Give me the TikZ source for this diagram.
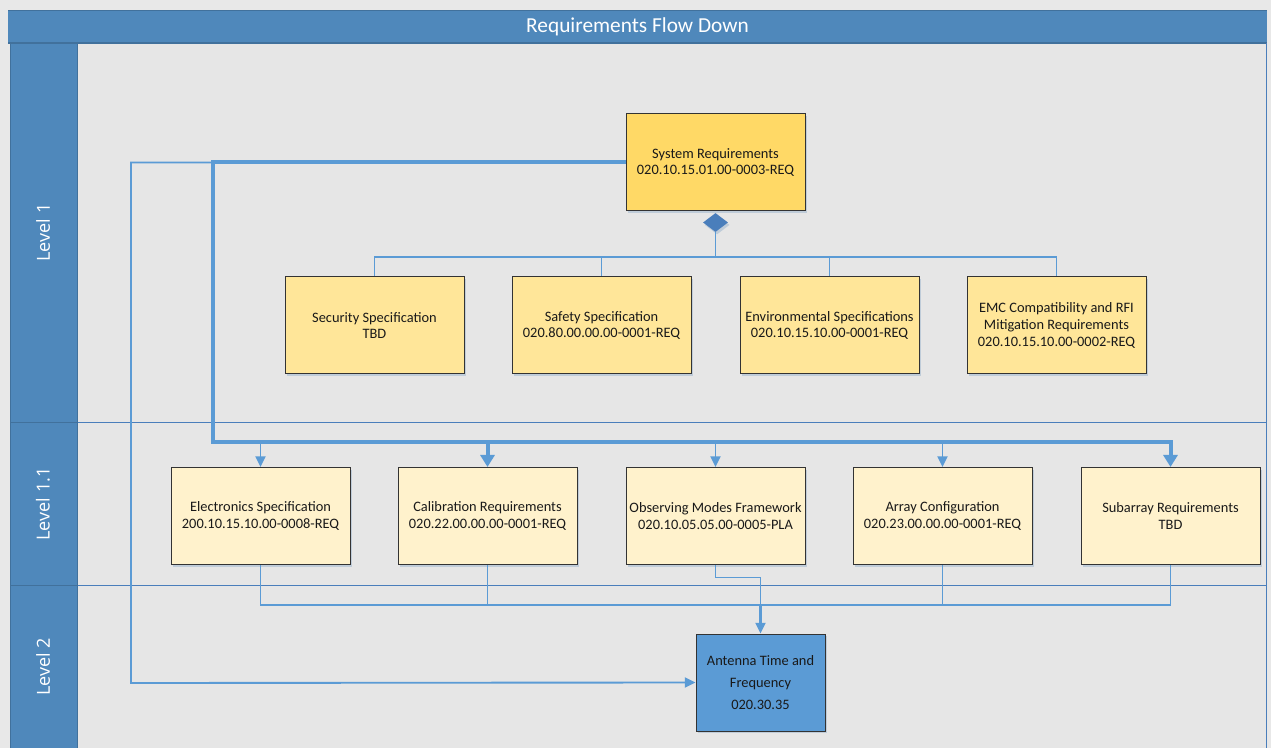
\documentclass[tikz,border=0pt]{standalone}
\usepackage{fontspec}
\setmainfont{Carlito}
\newfontfamily\lanefont{Open Sans}
\usetikzlibrary{arrows.meta,shapes.geometric,shadows}
\definecolor{bg}{HTML}{E8E8E8}
\definecolor{lanebg}{HTML}{E6E6E6}
\definecolor{hdr}{HTML}{4F88BB}
\definecolor{sep}{HTML}{41719C}
\definecolor{csep}{HTML}{4A7EBB}
\definecolor{conn}{HTML}{5B9BD5}
\definecolor{sysfill}{HTML}{FFD966}
\definecolor{lonefill}{HTML}{FFE699}
\definecolor{lelevfill}{HTML}{FFF2CC}
\definecolor{antfill}{HTML}{5B9BD5}
\definecolor{diafill}{HTML}{4A7EBB}
\begin{document}
\begin{tikzpicture}[x=0.75pt,y=-0.75pt,
  shade box/.style={drop shadow={shadow xshift=1.2pt, shadow yshift=-1.8pt, fill=conn!70!gray, opacity=0.3}},
  box/.style={draw=black!80, line width=0.75pt, minimum width=134.25pt, minimum height=72.75pt,
    align=center, font=\fontsize{10.8}{12.6}\selectfont, inner sep=1pt, text=black!90, shade box},
  antbox/.style={box, fill=antfill, minimum width=96.75pt, minimum height=72.75pt, font=\fontsize{10.8}{16.5}\selectfont},
  thinconn/.style={draw=conn, line width=1.4pt},
  thickconn/.style={draw=conn, line width=3pt},
  thinarrow/.style={thinconn, -{Triangle[width=7.5pt,length=8pt]}},
  thickarrow/.style={thickconn, -{Triangle[width=10.5pt,length=9pt]}},
  lanelabel/.style={text=white, rotate=90, font=\lanefont\fontsize{13.5}{15}\selectfont},
]
\useasboundingbox (0,0) rectangle (1271,748);
\fill[bg] (0,0) rectangle (1271,748);
% lanes area
\fill[lanebg] (77,43) rectangle (1267,748);
\fill[hdr] (8,10) rectangle (1267,43);
\fill[hdr] (10,43) rectangle (77,748);
\draw[sep, line width=0.9pt] (8,10.5) -- (1267,10.5);
\draw[sep, line width=0.9pt] (8,43) -- (1267,43);
\draw[csep, line width=1pt] (1266.5,43) -- (1266.5,748);
\draw[csep, line width=1.2pt] (77,422.5) -- (1267,422.5);
\draw[csep, line width=1.2pt] (77,585.5) -- (1267,585.5);
\draw[sep, line width=1.2pt] (10,422.5) -- (77,422.5);
\draw[sep, line width=1.2pt] (10,585.5) -- (77,585.5);
\draw[sep, line width=0.6pt] (10,43) -- (10,748);
\draw[sep, line width=0.6pt] (77,43) -- (77,748);

\node[text=white, font=\fontsize{16}{18}\selectfont] (title) at (637.5,27) {Requirements Flow Down};
\node[lanelabel] (lane1) at (43,232.5) {Level 1};
\node[lanelabel] (lane11) at (43,504) {Level 1.1};
\node[lanelabel] (lane2) at (43,667) {Level 2};

% nodes
\node[box, fill=sysfill] (sys) at (715.5,162.5) {System Requirements\\020.10.15.01.00-0003-REQ};
\node[diamond, fill=diafill, inner sep=0pt, minimum width=18.75pt, minimum height=14.25pt, shade box] (dia) at (715.5,222.5) {};

\node[box, fill=lonefill] (sec) at (374.5,325.5) {Security Specification\\TBD};
\node[box, fill=lonefill] (saf) at (601.5,325.5) {Safety Specification\\020.80.00.00.00-0001-REQ};
\node[box, fill=lonefill] (env) at (829.5,325.5) {Environmental Specifications\\020.10.15.10.00-0001-REQ};
\node[box, fill=lonefill] (emc) at (1056.5,325.5) {EMC Compatibility and RFI\\Mitigation Requirements\\020.10.15.10.00-0002-REQ};

\node[box, fill=lelevfill] (ele) at (260.5,516) {Electronics Specification\\200.10.15.10.00-0008-REQ};
\node[box, fill=lelevfill] (cal) at (487.5,516) {Calibration Requirements\\020.22.00.00.00-0001-REQ};
\node[box, fill=lelevfill] (obs) at (715.5,516) {Observing Modes Framework\\020.10.05.05.00-0005-PLA};
\node[box, fill=lelevfill] (arr) at (942.5,516) {Array Configuration\\020.23.00.00.00-0001-REQ};
\node[box, fill=lelevfill] (sub) at (1170.5,516) {Subarray Requirements\\TBD};

\node[antbox] (ant) at (760.5,682.5) {Antenna Time and\\Frequency\\020.30.35};

% coordinates
\coordinate (dj) at (715.5,257);
\coordinate (lp) at (131,683);
\coordinate (tc) at (213,442.5);
\coordinate (bb) at (760.5,605);
\coordinate (om) at (715.5,577.5);

% level 1 tree
\draw[thinconn] (dia.south) -- (dj) -| (sec.north);
\draw[thinconn] (dj) -| (saf.north);
\draw[thinconn] (dj) -| (env.north);
\draw[thinconn] (dj) -| (emc.north);

% system -> antenna (thin, left)
\draw[thinarrow] (sys.west) -| (lp) -- (ant.west);

% system -> level 1.1 (thick)
\draw[thickconn] (sys.west) -| (tc) -- (sub.north |- tc);
\draw[thinarrow] (tc) -| (ele.north);
\draw[thinarrow] (tc) -| (obs.north);
\draw[thinarrow] (tc) -| (arr.north);
\draw[thickarrow] (tc) -| (cal.north);
\draw[thickarrow] (tc) -| (sub.north);

% level 1.1 -> antenna
\draw[thinconn] (ele.south) |- (bb);
\draw[thinconn] (cal.south) |- (bb);
\draw[thinconn] (arr.south) |- (bb);
\draw[thinconn] (sub.south) |- (bb);
\draw[thinconn, line width=2pt] (bb) -- ([yshift=5pt]ant.north);
\draw[thinarrow] (obs.south) -- (om) -| (ant.north);
\end{tikzpicture}
\end{document}
